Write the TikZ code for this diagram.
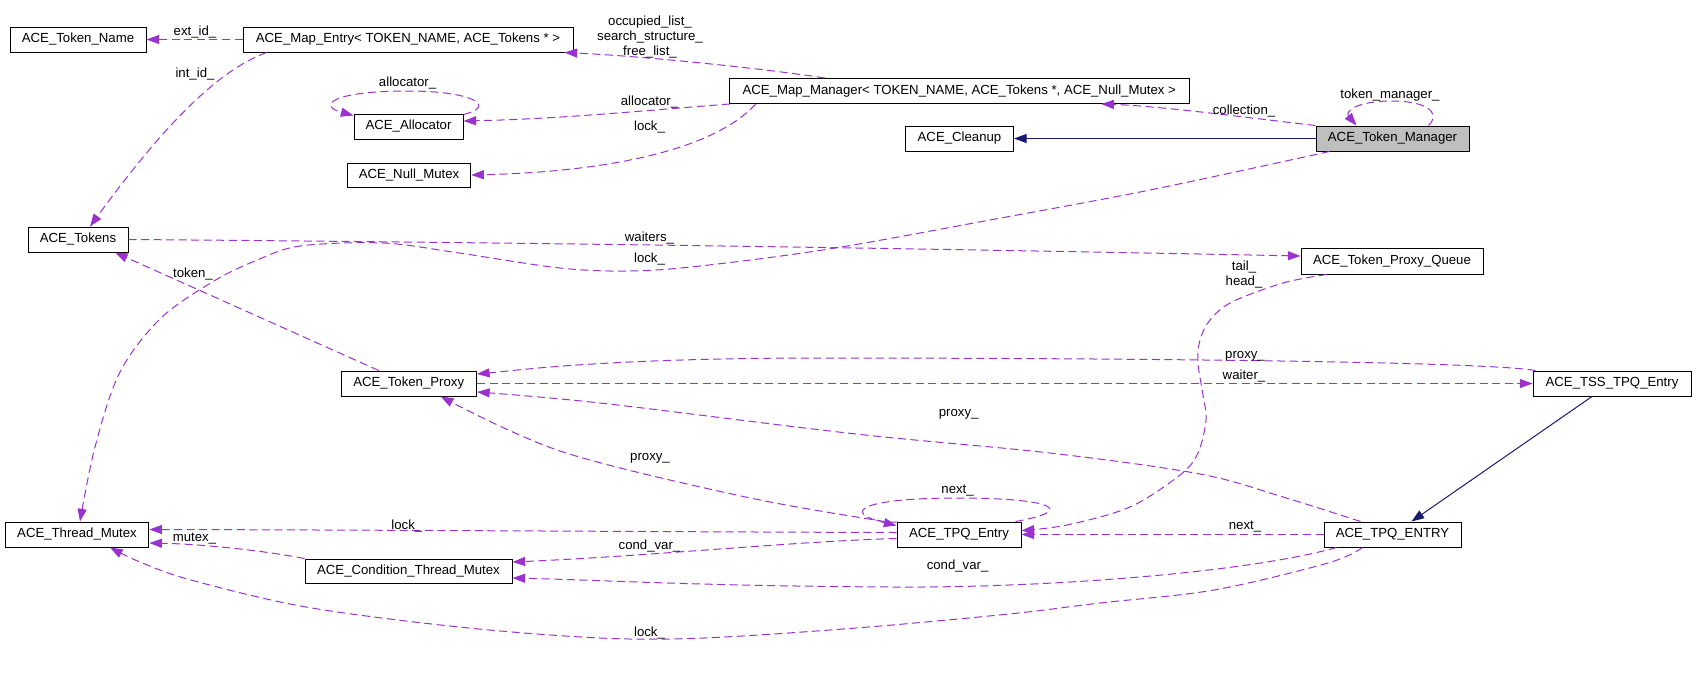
\documentclass[tikz,border=0pt]{standalone}
\usepackage{fontspec}
\setmainfont{Liberation Sans}
\usetikzlibrary{arrows.meta,calc}
\definecolor{relc}{HTML}{9A32CD}
\definecolor{inhc}{HTML}{191970}
\definecolor{hlgray}{HTML}{BFBFBF}
\begin{document}
\begin{tikzpicture}[x=0.75pt,y=-0.75pt,
  box/.style={draw=black,line width=0.75pt,fill=white,minimum height=18.75pt,inner sep=0pt,font=\fontsize{9.9}{11.25}\selectfont},
  lbl/.style={inner sep=0pt,font=\fontsize{9.9}{11.25}\selectfont,align=center},
  rel/.style={draw=relc,line width=0.75pt,dash pattern=on 6pt off 3.4pt,-{Triangle[length=9.5pt,width=6.8pt]}},
  inh/.style={draw=inhc,line width=0.75pt,-{Triangle[length=9.5pt,width=6.8pt]}},
]
\path[use as bounding box] (0,0) rectangle (1696,679);

% nodes
\node[box,minimum width=102pt] (tn) at (78,39.5) {ACE\_Token\_Name};
\node[box,minimum width=247.5pt] (me) at (408,39.5) {ACE\_Map\_Entry< TOKEN\_NAME, ACE\_Tokens * >};
\node[box,minimum width=81.75pt] (al) at (408.5,126.5) {ACE\_Allocator};
\node[box,minimum width=92.6pt,minimum height=18pt] (nm) at (409,175) {ACE\_Null\_Mutex};
\node[box,minimum width=75pt] (tk) at (78,239.5) {ACE\_Tokens};
\node[box,minimum width=345pt] (mm) at (959.25,91) {ACE\_Map\_Manager< TOKEN\_NAME, ACE\_Tokens *, ACE\_Null\_Mutex >};
\node[box,minimum width=81pt] (cl) at (959.5,138.5) {ACE\_Cleanup};
\node[box,fill=hlgray,minimum width=114.75pt] (tm) at (1392.5,138.5) {ACE\_Token\_Manager};
\node[box,minimum width=136.5pt,minimum height=19.5pt] (tpq) at (1392,261) {ACE\_Token\_Proxy\_Queue};
\node[box,minimum width=101.6pt] (tp) at (408.75,383.5) {ACE\_Token\_Proxy};
\node[box,minimum width=118.5pt] (tss) at (1612,383.5) {ACE\_TSS\_TPQ\_Entry};
\node[box,minimum width=107.7pt] (thm) at (77,534.5) {ACE\_Thread\_Mutex};
\node[box,minimum width=155.25pt,minimum height=18pt] (ctm) at (408.5,571) {ACE\_Condition\_Thread\_Mutex};
\node[box,minimum width=93pt] (te) at (959,534.5) {ACE\_TPQ\_Entry};
\node[box,minimum width=102.75pt] (tE) at (1392.5,534.5) {ACE\_TPQ\_ENTRY};

% edges
% ext_id_
\draw[rel] (me.west) -- (tn.east);
% int_id_
\draw[rel] ($(me.south west)+(24,0)$) .. controls (225,68) and (175,110) .. ($(tk.north)+(12,0)$);
% occupied_list_ etc
\draw[rel] ($(mm.north west)+(96,0)$) .. controls (760,68) and (640,56) .. ($(me.south east)+(-9,0)$);
% allocator_ self loop
\draw[rel] ($(al.north east)+(0,1)$) .. controls (498,106) and (472,91) .. (408,91) .. controls (330,91) and (318,106) .. ($(al.north west)+(0,2)$);
% allocator_
\draw[rel] ($(mm.south west)+(1,0)$) .. controls (650,110) and (560,119) .. ($(al.east)+(0,-5.5)$);
% lock_ (null mutex)
\draw[rel] ($(mm.south west)+(27,0)$) .. controls (712,152) and (600,172) .. (nm.east);
% collection_
\draw[rel] (tm.north west) .. controls (1250,118) and (1160,106) .. ($(mm.south)+(142,0)$);
% inheritance cleanup
\draw[inh] (tm.west) -- (cl.east);
% token_manager_ self loop
\draw[rel] ($(tm.north)+(36,0)$) .. controls (1442,112) and (1425,101) .. (1392,101) .. controls (1355,101) and (1345,112) .. ($(tm.north)+(-36,0)$);
% lock_ (token manager -> thread mutex)
\draw[rel] plot[smooth,tension=0.55] coordinates {($(tm.south west)+(14,0)$) (1150,190) (990,220) (829,249) (700,266) (630,271) (560,268) (459,253) (383,243) (300,246) (255,261) (214,281) (161,318) (120,372) (95,447) ($(thm.north)+(3,0)$)};
% waiters_
\draw[rel] (tk.east) .. controls (600,243) and (1000,250) .. ($(tpq.west)+(0,-5)$);
% token_
\draw[rel] ($(tp.north)+(-30,0)$) -- ($(tk.south)+(37,0)$);
% tail_ head_
\draw[rel] plot[smooth,tension=0.55] coordinates {($(tpq.south west)+(26,0)$) (1283,283) (1232,302) (1210,320) (1200,340) (1198,363) (1203,395) (1206,420) (1198,453) (1180,475) (1130,507) (1067,525) ($(te.east)+(0,-4)$)};
% proxy_ (TSS -> token proxy)
\draw[rel] ($(tss.north west)+(3,0)$) .. controls (1480,361) and (1100,358) .. (800,358) .. controls (600,359) and (520,370) .. ($(tp.east)+(0,-9.5)$);
% waiter_
\draw[rel] (tp.east) -- (tss.west);
% proxy_ (TPQ_ENTRY -> token proxy)
\draw[rel] plot[smooth,tension=0.55] coordinates {($(tE.north)+(-32,0)$) (1283,497) (1200,474) (1050,453) (856,434) (600,403) ($(tp.east)+(0,8.5)$)};
% inheritance TSS -> TPQ_ENTRY
\draw[inh] ($(tss.south)+(-20,0)$) -- ($(tE.north)+(19,0)$);
% proxy_ (TPQ_Entry -> token proxy)
\draw[rel] plot[smooth,tension=0.55] coordinates {(te.north west) (875,520) (741,496) (560,451) ($(tp.south)+(32,0)$)};
% next_ self loop
\draw[rel] ($(te.north east)+(-6,0)$) .. controls (1080,510) and (1050,498) .. (958,498) .. controls (862,498) and (840,512) .. ($(te.north west)+(0,4)$);
% lock_ (TPQ_Entry -> thread mutex)
\draw[rel] ($(te.west)+(0,-2)$) .. controls (700,532) and (400,530) .. ($(thm.east)+(0,-5)$);
% cond_var_ (TPQ_Entry -> CTM)
\draw[rel] ($(te.west)+(0,4)$) .. controls (800,541) and (650,556) .. ($(ctm.east)+(0,-9)$);
% mutex_
\draw[rel] (ctm.north west) .. controls (260,550) and (200,544) .. ($(thm.east)+(0,8.5)$);
% next_ (TPQ_ENTRY -> TPQ_Entry)
\draw[rel] (tE.west) -- (te.east);
% cond_var_ (TPQ_ENTRY -> CTM)
\draw[rel] ($(tE.south west)+(13,0)$) .. controls (1250,572) and (1050,588) .. (894,587) .. controls (700,586) and (600,580) .. ($(ctm.east)+(0,7)$);
% lock_ (TPQ_ENTRY -> thread mutex)
\draw[rel] plot[smooth,tension=0.55] coordinates {($(tE.south)+(-30,0)$) (1328,563) (1214,590) (1100,603) (1009,614) (856,628) (703,638) (600,638) (459,627) (306,607) (191,580) (140,562) ($(thm.south)+(33,0)$)};

% labels
\node[lbl] (l1) at (195,31.7) {ext\_id\_};
\node[lbl] (l2) at (195,74) {int\_id\_};
\node[lbl] (l3) at (650,37.5) {occupied\_list\_\\search\_structure\_\\free\_list\_};
\node[lbl] (l4) at (407.6,82.7) {allocator\_};
\node[lbl] (l5) at (649.5,101.7) {allocator\_};
\node[lbl] (l6) at (649.5,126.7) {lock\_};
\node[lbl] (l7) at (1244,111) {collection\_};
\node[lbl] (l8) at (1390,95) {token\_manager\_};
\node[lbl] (l9) at (649.5,238.5) {waiters\_};
\node[lbl] (l10) at (649.5,259) {lock\_};
\node[lbl] (l11) at (193,274) {token\_};
\node[lbl] (l12) at (1244,274.5) {tail\_\\head\_};
\node[lbl] (l13) at (1245,356) {proxy\_};
\node[lbl] (l14) at (1244,375.7) {waiter\_};
\node[lbl] (l15) at (958.7,414) {proxy\_};
\node[lbl] (l16) at (650,458) {proxy\_};
\node[lbl] (l17) at (957.6,490.7) {next\_};
\node[lbl] (l18) at (406.8,525.7) {lock\_};
\node[lbl] (l19) at (194.4,539) {mutex\_};
\node[lbl] (l20) at (649.5,545.7) {cond\_var\_};
\node[lbl] (l21) at (1245,526.7) {next\_};
\node[lbl] (l22) at (957.6,565.7) {cond\_var\_};
\node[lbl] (l23) at (649.5,633.3) {lock\_};
\end{tikzpicture}
\end{document}
